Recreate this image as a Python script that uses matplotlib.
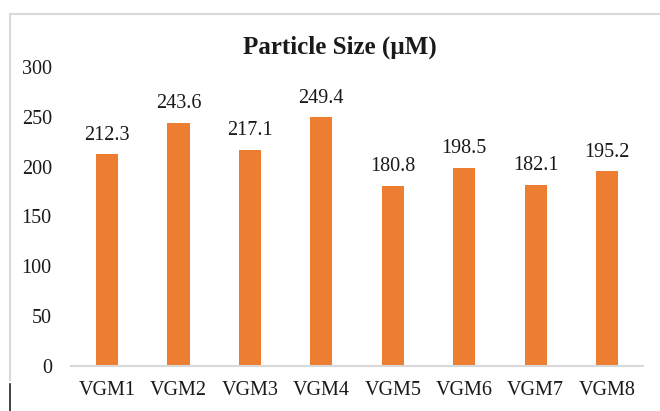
import matplotlib
matplotlib.use("Agg")
import matplotlib.pyplot as plt
from matplotlib.lines import Line2D

categories = ["VGM1", "VGM2", "VGM3", "VGM4", "VGM5", "VGM6", "VGM7", "VGM8"]
particle_size = [212.3, 243.6, 217.1, 249.4, 180.8, 198.5, 182.1, 195.2]
y_ticks = [0, 50, 100, 150, 200, 250, 300]

plt.rcParams["font.family"] = ["Liberation Serif", "DejaVu Serif"]

fig = plt.figure(figsize=(6.6, 4.11), dpi=100)
ax = fig.add_axes([0.108, 0.1095, 0.866, 0.7275])

x = list(range(len(categories)))
bars = ax.bar(x, particle_size, width=0.31, color="#ED7D31", zorder=2)

for xi, v in zip(x, particle_size):
    ax.annotate(f"{v:.1f}", (xi, v), xytext=(0, 7), textcoords="offset points",
                ha="center", va="bottom", fontsize=14.5, color="#1a1a1a")

ax.set_xlim(-0.5, len(categories) - 0.5)
ax.set_ylim(0, 300)
ax.set_yticks(y_ticks)
ax.set_xticks(x)
ax.set_xticklabels(categories)
ax.tick_params(axis="both", length=0, labelsize=14.5, colors="#1a1a1a")
ax.tick_params(axis="y", pad=14)
ax.tick_params(axis="x", pad=11)

for side in ["top", "right", "left"]:
    ax.spines[side].set_visible(False)
ax.spines["bottom"].set_color("#D9D9D9")
ax.spines["bottom"].set_linewidth(1.5)

fig.text(0.515, 1 - 47 / 411, "Particle Size (µM)", ha="center", va="center",
         fontsize=18, fontweight="bold", color="#1a1a1a")

# chart area border (top and left edges) and the dark mark at lower left
W, H = 660, 411
fig.add_artist(Line2D([10 / W, 1.0], [1 - 14 / H, 1 - 14 / H],
                      transform=fig.transFigure, color="#D9D9D9", lw=1.5))
fig.add_artist(Line2D([10 / W, 10 / W], [1 - 14 / H, 1 - 380 / H],
                      transform=fig.transFigure, color="#D9D9D9", lw=1.5))
fig.add_artist(Line2D([10 / W, 10 / W], [1 - 384 / H, 0.0],
                      transform=fig.transFigure, color="#222222", lw=1.2))

fig.savefig("out.png", dpi=100, facecolor="white")
